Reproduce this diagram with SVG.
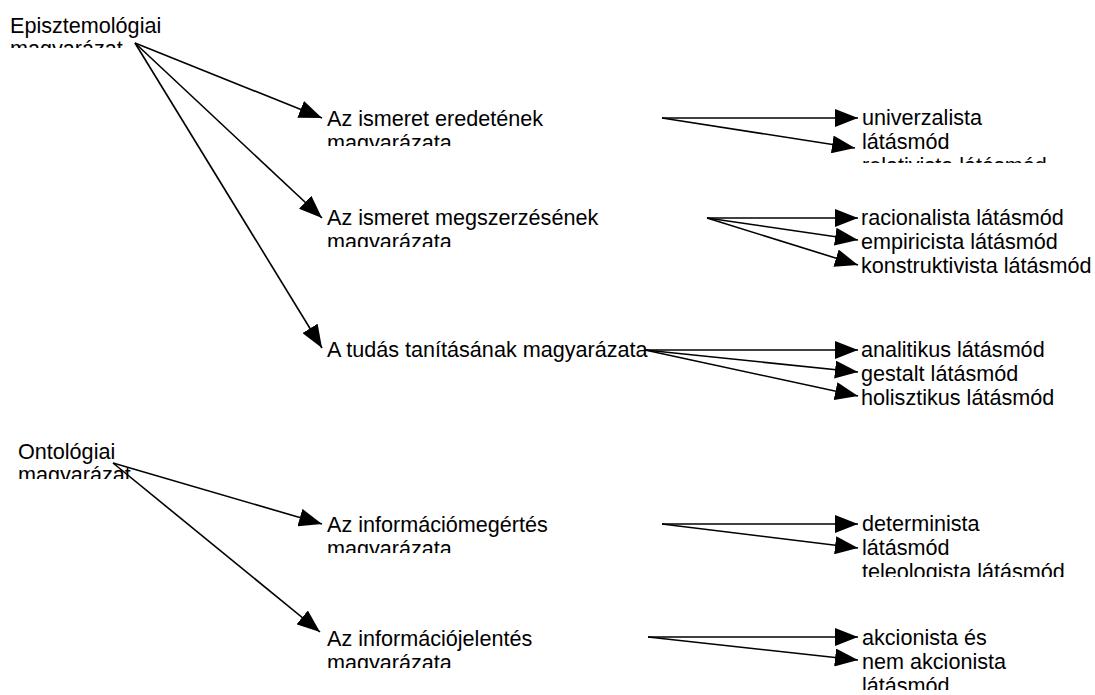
<svg xmlns="http://www.w3.org/2000/svg" width="1095" height="695" viewBox="0 0 1095 695">
<style>
text{font-family:"Liberation Sans",Arial,sans-serif;font-size:21.6px;fill:#000}
.c line{stroke:#000;stroke-width:1.6;marker-end:url(#ah)}
</style>
<defs>
<marker id="ah" markerUnits="userSpaceOnUse" markerWidth="23" markerHeight="18" refX="23" refY="9" orient="auto" viewBox="0 0 23 18">
<path d="M0,0 L23,9 L0,18 z" fill="#000"/>
</marker>
<clipPath id="k1"><rect x="0" y="0" width="300" height="48"/></clipPath>
<clipPath id="k2"><rect x="320" y="100" width="340" height="46"/></clipPath>
<clipPath id="k3"><rect x="855" y="100" width="240" height="63"/></clipPath>
<clipPath id="k4"><rect x="320" y="200" width="380" height="47"/></clipPath>
<clipPath id="k8"><rect x="0" y="430" width="300" height="49"/></clipPath>
<clipPath id="k9"><rect x="320" y="505" width="340" height="48"/></clipPath>
<clipPath id="k10"><rect x="855" y="505" width="240" height="72"/></clipPath>
<clipPath id="k11"><rect x="320" y="620" width="320" height="48"/></clipPath>
<clipPath id="k12"><rect x="855" y="620" width="240" height="70"/></clipPath>
</defs>
<rect width="1095" height="695" fill="#fff"/>
<g class="c" id="connectors">
<line x1="135" y1="43" x2="322" y2="118"/>
<line x1="135" y1="43" x2="322" y2="218"/>
<line x1="135" y1="43" x2="322" y2="348"/>
<line x1="662" y1="118" x2="858" y2="118"/>
<line x1="662" y1="118" x2="855" y2="148"/>
<line x1="707" y1="218" x2="858" y2="218"/>
<line x1="707" y1="218" x2="858" y2="240"/>
<line x1="707" y1="218" x2="858" y2="265"/>
<line x1="645" y1="350" x2="858" y2="350"/>
<line x1="645" y1="350" x2="858" y2="372"/>
<line x1="645" y1="350" x2="858" y2="396"/>
<line x1="113" y1="463" x2="322" y2="524"/>
<line x1="113" y1="463" x2="320" y2="632"/>
<line x1="662" y1="524" x2="858" y2="524"/>
<line x1="662" y1="524" x2="858" y2="548"/>
<line x1="648" y1="637" x2="858" y2="637"/>
<line x1="648" y1="637" x2="858" y2="660"/>
</g>
<g id="n1" clip-path="url(#k1)"><text x="10" y="33">Episztemológiai</text><text x="10" y="56">magyarázat</text></g>
<g id="n2" clip-path="url(#k2)"><text x="327" y="126">Az ismeret eredetének</text><text x="327" y="150">magyarázata</text></g>
<g id="n3" clip-path="url(#k3)"><text x="862" y="125">univerzalista</text><text x="862" y="149">látásmód</text><text x="862" y="173">relativista látásmód</text></g>
<g id="n4" clip-path="url(#k4)"><text x="327" y="225">Az ismeret megszerzésének</text><text x="327" y="249">magyarázata</text></g>
<g id="n5"><text x="861" y="225">racionalista látásmód</text><text x="861" y="249">empiricista látásmód</text><text x="861" y="273">konstruktivista látásmód</text></g>
<g id="n6"><text x="327" y="357">A tudás tanításának magyarázata</text></g>
<g id="n7"><text x="861" y="357">analitikus látásmód</text><text x="861" y="381">gestalt látásmód</text><text x="861" y="405">holisztikus látásmód</text></g>
<g id="n8" clip-path="url(#k8)"><text x="18" y="459">Ontológiai</text><text x="18" y="482">magyarázat</text></g>
<g id="n9" clip-path="url(#k9)"><text x="327" y="532">Az információmegértés</text><text x="327" y="556">magyarázata</text></g>
<g id="n10" clip-path="url(#k10)"><text x="862" y="531">determinista</text><text x="862" y="555">látásmód</text><text x="862" y="579">teleologista látásmód</text></g>
<g id="n11" clip-path="url(#k11)"><text x="327" y="646">Az információjelentés</text><text x="327" y="670">magyarázata</text></g>
<g id="n12" clip-path="url(#k12)"><text x="862" y="645">akcionista és</text><text x="862" y="669">nem akcionista</text><text x="862" y="693">látásmód</text></g>
</svg>
